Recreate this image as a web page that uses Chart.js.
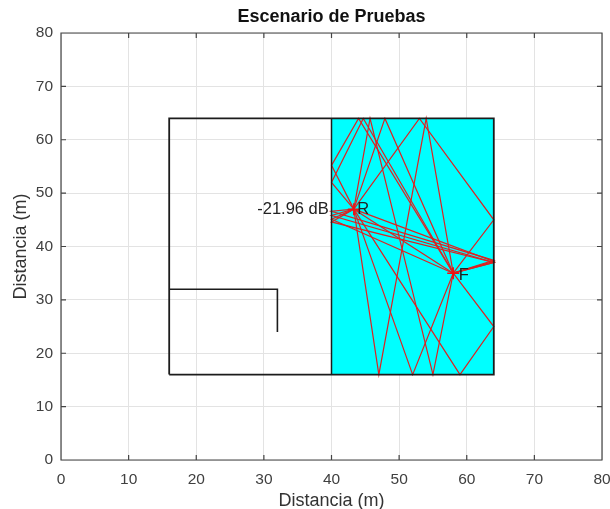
<!DOCTYPE html>
<html><head><meta charset="utf-8">
<style>html,body{margin:0;padding:0;background:#fff}#w{width:610px;height:509px}canvas{filter:blur(0.35px)}</style>
<script src="https://cdn.jsdelivr.net/npm/chart.js@4"></script></head>
<body><div id="w"><canvas id="c"></canvas></div>
<script>
const xTicks=[0,10,20,30,40,50,60,70,80];
const yTicks=[0,10,20,30,40,50,60,70,80];
const cyanRoom=[[40,64],[64,64]];
const walls=[[16,16],[64,16],[64,64],[16,64],[16,16]];
const divider=[[40,16],[40,64]];
const innerWall=[[16,32],[32,32],[32,24]];
const source=[58,35];
const receiver=[43.3,47];
const ray1=[[58,35],[43.3,47]];
const ray2=[[58,35],[47.9,64],[43.3,47]];
const ray3=[[58,35],[52,16],[43.3,47]];
const ray4=[[58,35],[40,45.1],[43.3,47]];
const ray5=[[58,35],[64,37.2],[43.3,47]];
const ray6=[[58,35],[55,16],[45.7,64],[43.3,47]];
const ray7=[[58,35],[54,64],[47,16],[43.3,47]];
const ray8=[[58,35],[44,64],[40,55.2],[43.3,47]];
const ray9=[[58,35],[64,45],[53,64],[43.3,47]];
const ray10=[[58,35],[64,25],[59,16],[43.3,47]];
const ray11=[[58,35],[64,37],[40,45.8],[43.3,47]];
const ray12=[[58,35],[44.7,64],[40,52],[43.3,47]];
const ray13=[[58,35],[64,37],[40,44.6],[43.3,47]];
const ray14=[[58,35],[64,37.4],[40,46.6],[43.3,47]];
const rays=[ray1,ray2,ray3,ray4,ray5,ray6,ray7,ray8,ray9,ray10,ray11,ray12,ray13,ray14];
const notes=[{t:'R',x:43.8,y:47,a:'left'},{t:'F',x:58.8,y:34.5,a:'left'},{t:'-21.96 dB',x:39.6,y:46.9,a:'right'}];
const titleText='Escenario de Pruebas';
const xName='Distancia (m)';
const yName='Distancia (m)';
const pts=a=>a.map(p=>({x:p[0],y:p[1]}));
const line=(a,color,w,order)=>({data:pts(a),showLine:true,borderColor:color,borderWidth:w,pointRadius:0,fill:false,order,tension:0});
const datasets=[];
datasets.push({data:pts(cyanRoom),showLine:true,borderWidth:0,pointRadius:0,backgroundColor:'#00ffff',fill:{value:16},order:9});
rays.forEach(r=>datasets.push(line(r,'#dd2222',1.2,5)));
datasets.push(line(walls,'#1c1c1c',1.8,3));
datasets.push(line(divider,'#1c1c1c',1.5,3));
datasets.push(line(innerWall,'#1c1c1c',1.6,3));
datasets.push({data:pts([source,receiver]),showLine:false,pointStyle:'cross',pointRadius:6,pointBorderColor:'#ee1111',pointBorderWidth:1.5,borderColor:'#ee1111',order:2});
const overlay={id:'overlay',afterDatasetsDraw(ch){
 const {ctx,chartArea:a,scales:{x,y}}=ch;ctx.save();
 ctx.strokeStyle='#444';ctx.lineWidth=1.2;ctx.beginPath();
 ctx.rect(a.left,a.top,a.right-a.left,a.bottom-a.top);
 xTicks.forEach(v=>{const p=x.getPixelForValue(v);ctx.moveTo(p,a.bottom);ctx.lineTo(p,a.bottom-5);ctx.moveTo(p,a.top);ctx.lineTo(p,a.top+5);});
 yTicks.forEach(v=>{const p=y.getPixelForValue(v);ctx.moveTo(a.left,p);ctx.lineTo(a.left+5,p);ctx.moveTo(a.right,p);ctx.lineTo(a.right-5,p);});
 ctx.stroke();
 ctx.font='16.5px "Liberation Sans"';ctx.textBaseline='middle';
 notes.forEach(n=>{ctx.fillStyle='#222';ctx.textAlign=n.a;ctx.fillText(n.t,x.getPixelForValue(n.x),y.getPixelForValue(n.y));});
 ctx.restore();
}};
const tickFont={family:'"Liberation Sans"',size:15.5};
new Chart(document.getElementById('c'),{type:'scatter',data:{datasets},plugins:[overlay],options:{
 responsive:true,maintainAspectRatio:false,animation:false,
 layout:{padding:{left:0,right:0,top:0,bottom:0}},
 plugins:{legend:{display:false},tooltip:{enabled:false},
  title:{display:true,fullSize:false,text:titleText,color:'#111',font:{family:'"Liberation Sans"',size:18,weight:'bold'},padding:{top:6,bottom:5.4}}},
 scales:{
  x:{type:'linear',min:0,max:80,afterBuildTicks(s){s.ticks=xTicks.map(value=>({value}));},afterFit(s){s.height=49;s.paddingRight=8;},
   grid:{color:'#e3e3e3',lineWidth:1,drawTicks:false},border:{display:false},
   ticks:{color:'#404040',font:tickFont,padding:10,maxRotation:0,autoSkip:false},
   title:{display:true,text:xName,color:'#333',font:{family:'"Liberation Sans"',size:18,lineHeight:1},padding:{top:1,bottom:-1}}},
  y:{type:'linear',min:0,max:80,afterBuildTicks(s){s.ticks=yTicks.map(value=>({value}));},afterFit(s){s.width=61;},
   grid:{color:'#e3e3e3',lineWidth:1,drawTicks:false},border:{display:false},
   ticks:{color:'#404040',font:tickFont,padding:8,autoSkip:false},
   title:{display:true,text:yName,color:'#333',font:{family:'"Liberation Sans"',size:18},padding:{top:10,bottom:0}}}
 }}});
</script></body></html>
